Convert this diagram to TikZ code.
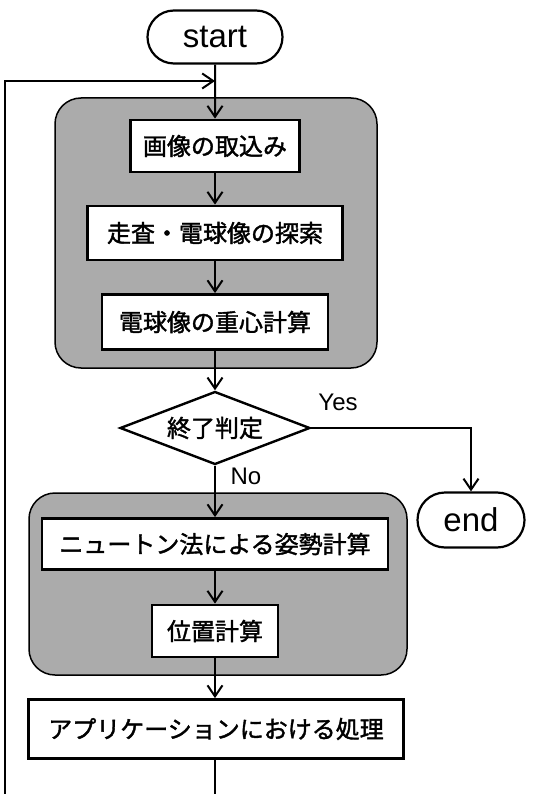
\documentclass[tikz,border=0pt]{standalone}
\usepackage{fontspec}
\setmainfont{Liberation Sans}
\newfontfamily\jp[FakeBold=1.6]{Noto Sans CJK JP}
\usetikzlibrary{shapes.geometric,shapes.misc,arrows.meta}
\begin{document}
\begin{tikzpicture}[x=1pt,y=-1pt,
  box/.style={draw, line width=2.8pt, fill=white, inner sep=0pt, font=\jp\fontsize{24}{24}\selectfont},
  term/.style={draw, rounded rectangle, line width=2.2pt, fill=white, inner sep=0pt, font=\fontsize{33}{33}\selectfont},
  decision/.style={draw, diamond, line width=2.4pt, fill=white, inner sep=0pt, aspect=2.6, font=\jp\fontsize{24}{24}\selectfont},
  grp/.style={draw, line width=1.5pt, fill=black!33, rounded corners=26pt},
  conn/.style={line width=2pt},
  arr/.style={conn, -{Straight Barb[length=11pt,width=15pt,line width=2pt]}},
  lbl/.style={font=\fontsize{24}{24}\selectfont, inner sep=0pt}]
\useasboundingbox (0,0) rectangle (559,794);

% shaded groups
\draw[grp] (55,98) rectangle (377,368);
\draw[grp] (29,493) rectangle (407,675);

% nodes
\node[term, minimum width=135pt, minimum height=53pt] (start) at (215,37) {start};
\node[box, minimum width=169pt, minimum height=52pt] (b1) at (215,146) {画像の取込み};
\node[box, minimum width=255pt, minimum height=54pt] (b2) at (215,233) {走査・電球像の探索};
\node[box, minimum width=226pt, minimum height=55pt] (b3) at (215,322) {電球像の重心計算};
\node[decision, minimum width=190pt, minimum height=73pt] (dec) at (215,428) {終了判定};
\node[box, minimum width=346pt, minimum height=51pt] (b4) at (215,544) {ニュートン法による姿勢計算};
\node[box, minimum width=126pt, minimum height=52pt] (b5) at (215,631) {位置計算};
\node[box, minimum width=375pt, minimum height=59pt] (b6) at (216,729) {アプリケーションにおける処理};
\node[term, minimum width=107pt, minimum height=55pt] (end) at (471,520) {end};

\node[lbl] (yes) at (338,402) {Yes};
\node[lbl] (no) at (246,476) {No};

% helper coordinates
\coordinate (j) at (215,81);
\coordinate (lb) at (5,794);
\coordinate (mb) at (215,794);

% connectors
\draw[arr] (start) -- (b1);
\draw[arr] (lb) |- (j);
\draw[arr] (b1) -- (b2);
\draw[arr] (b2) -- (b3);
\draw[arr] (b3) -- (dec);
\draw[arr] (dec) -- (b4);
\draw[arr] (b4) -- (b5);
\draw[arr] (b5.south) -- (b5.south |- b6.north);
\draw[conn] (b6.south -| mb) -- (mb);
\draw[arr] (dec.east) -| (end);
\end{tikzpicture}
\end{document}
